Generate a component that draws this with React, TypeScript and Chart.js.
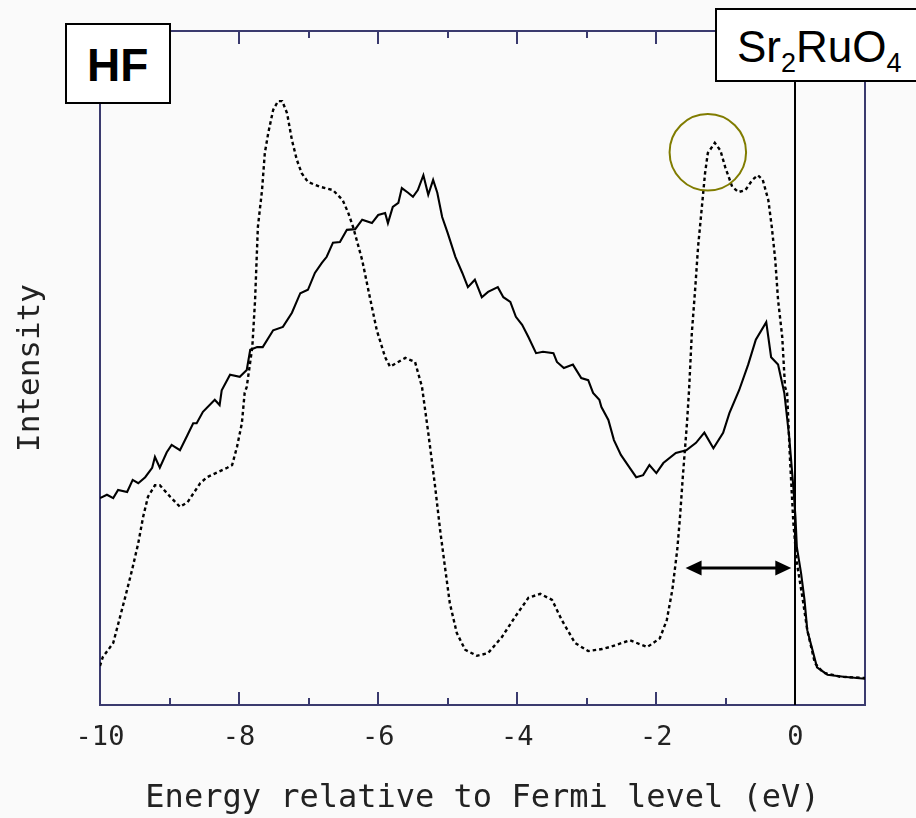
import React, { useEffect, useRef } from 'react';
import { Chart, registerables } from 'chart.js';

Chart.register(...registerables);

// Calculated (HF) spectrum – dotted curve
const calcEnergy = [-10.00,-9.96,-9.81,-9.64,-9.54,-9.45,-9.38,-9.31,-9.21,-9.14,-8.99,-8.85,-8.74,-8.56,-8.46,-8.17,-8.10,-8.03,-7.96,-7.92,-7.89,-7.81,-7.77,-7.73,-7.67,-7.63,-7.58,-7.51,-7.44,-7.38,-7.31,-7.24,-7.17,-7.10,-7.01,-6.84,-6.65,-6.51,-6.43,-6.36,-6.23,-6.12,-6.02,-5.90,-5.83,-5.61,-5.47,-5.37,-5.28,-5.18,-5.11,-5.04,-4.97,-4.87,-4.75,-4.58,-4.42,-4.22,-4.03,-3.84,-3.67,-3.50,-3.36,-3.17,-2.98,-2.78,-2.67,-2.38,-2.13,-1.95,-1.85,-1.77,-1.70,-1.66,-1.62,-1.56,-1.53,-1.49,-1.44,-1.40,-1.34,-1.30,-1.26,-1.16,-1.08,-1.01,-0.91,-0.82,-0.72,-0.62,-0.54,-0.47,-0.39,-0.34,-0.29,-0.25,-0.19,-0.15,-0.12,-0.08,-0.03,0.02,0.10,0.17,0.28,0.40,0.64,1.00];
const calcIntensity = [5.8,7.1,9.2,15.9,20.0,24.0,27.9,30.9,32.6,32.6,30.9,29.4,30.1,32.9,33.8,35.2,35.6,38.3,41.8,46.3,47.2,53.1,60.1,70.9,76.4,81.9,84.9,88.3,89.6,89.6,87.8,83.8,80.9,78.9,77.6,76.9,76.4,74.9,73.0,70.9,66.0,60.5,55.6,51.6,50.2,51.5,50.9,47.2,40.4,32.3,26.0,20.5,15.1,10.7,8.2,7.3,7.7,10.1,13.1,15.9,16.5,15.6,12.6,9.2,8.0,8.3,8.6,9.6,8.6,9.9,12.6,17.1,23.0,27.9,33.8,41.8,46.7,55.2,62.0,68.0,74.5,78.9,81.9,83.4,82.3,79.8,76.9,76.1,76.4,77.9,78.6,77.9,74.9,70.9,66.0,60.1,54.6,47.2,46.3,36.8,27.0,21.1,16.0,11.1,6.2,4.8,4.2,4.0];

// Experimental spectrum – solid curve
const expEnergy = [-10.00,-9.90,-9.81,-9.74,-9.61,-9.53,-9.45,-9.35,-9.25,-9.21,-9.14,-9.04,-8.97,-8.85,-8.74,-8.66,-8.61,-8.52,-8.35,-8.28,-8.25,-8.13,-7.99,-7.89,-7.84,-7.74,-7.66,-7.51,-7.37,-7.24,-7.12,-7.01,-6.91,-6.81,-6.74,-6.65,-6.55,-6.45,-6.33,-6.23,-6.09,-6.00,-5.90,-5.86,-5.79,-5.71,-5.66,-5.57,-5.50,-5.43,-5.35,-5.28,-5.21,-5.15,-5.08,-5.00,-4.89,-4.79,-4.71,-4.61,-4.51,-4.42,-4.28,-4.20,-4.10,-4.02,-3.93,-3.84,-3.73,-3.63,-3.48,-3.43,-3.33,-3.20,-3.08,-2.98,-2.91,-2.82,-2.79,-2.69,-2.61,-2.51,-2.39,-2.29,-2.19,-2.10,-2.00,-1.90,-1.72,-1.57,-1.43,-1.31,-1.18,-1.04,-0.95,-0.81,-0.68,-0.57,-0.42,-0.35,-0.25,-0.16,-0.09,-0.03,0.00,0.02,0.08,0.13,0.17,0.31,0.46,0.69,1.00];
const expIntensity = [30.7,31.2,30.7,31.9,31.6,33.4,32.9,33.8,35.2,36.8,35.2,37.5,38.6,37.8,40.1,41.8,41.8,43.5,45.3,44.5,46.7,49.0,48.7,49.7,52.7,53.1,53.1,55.6,56.1,58.2,61.1,61.6,64.1,65.6,66.5,68.6,68.7,70.5,70.6,72.0,71.5,72.7,73.0,71.5,73.9,74.5,76.7,76.0,75.4,76.4,78.6,75.7,77.9,76.0,72.4,70.0,66.5,64.1,62.0,63.1,60.5,61.3,62.0,60.5,59.8,57.6,56.4,54.6,52.2,52.4,52.2,50.9,50.0,50.5,48.5,48.2,46.3,45.3,44.2,42.3,39.3,37.1,35.3,33.8,34.1,35.6,34.4,35.9,37.4,37.8,38.9,40.4,38.1,40.4,43.3,46.7,50.5,54.2,56.8,51.6,50.5,46.3,39.8,32.3,27.9,23.4,19.6,15.6,11.1,5.6,4.5,4.2,3.9];

const tickValues = [-10, -8, -6, -4, -2, 0];
const minorTickValues = [-9, -7, -5, -3, -1];
const xTitle = 'Energy relative to Fermi level (eV)';
const yTitle = 'Intensity';

// annotations (data coordinates)
const circleCenterE = -1.26;
const circleCenterI = 82.0;
const circleRadiusE = 0.55;
const arrowStartE = -1.58;
const arrowEndE = -0.06;
const arrowLevelI = 20.3;
const fermiE = 0;

const AXIS = '#3a3a6e';
const BG = '#fafafa';

const zip = (xs: number[], ys: number[]) =>
  xs.slice(0, Math.min(xs.length, ys.length)).map((x, i) => ({ x, y: ys[i] }));

const overlayPlugin = {
  id: 'overlay',
  beforeDraw(chart: any) {
    const { ctx, width, height } = chart;
    ctx.save();
    ctx.fillStyle = BG;
    ctx.fillRect(0, 0, width, height);
    ctx.restore();
  },
  afterDraw(chart: any) {
    const { ctx, chartArea: a } = chart;
    const x = chart.scales.x;
    const y = chart.scales.y;
    ctx.save();
    // inward ticks top & bottom
    ctx.strokeStyle = AXIS;
    ctx.lineWidth = 2;
    const all = [...tickValues, ...minorTickValues];
    for (const v of all) {
      if (v === -10) continue;
      const px = Math.round(x.getPixelForValue(v));
      const len = tickValues.includes(v) ? 13 : 7;
      ctx.beginPath();
      ctx.moveTo(px, a.bottom);
      ctx.lineTo(px, a.bottom - len);
      ctx.moveTo(px, a.top);
      ctx.lineTo(px, a.top + len);
      ctx.stroke();
    }
    // Fermi level line
    const fx = Math.round(x.getPixelForValue(fermiE));
    ctx.strokeStyle = '#000';
    ctx.lineWidth = 2;
    ctx.beginPath();
    ctx.moveTo(fx, a.top);
    ctx.lineTo(fx, a.bottom);
    ctx.stroke();
    // circle
    const cx = x.getPixelForValue(circleCenterE);
    const cy = y.getPixelForValue(circleCenterI);
    const r = x.getPixelForValue(circleCenterE + circleRadiusE) - cx;
    ctx.strokeStyle = '#807c00';
    ctx.lineWidth = 2;
    ctx.beginPath();
    ctx.arc(cx, cy, r, 0, Math.PI * 2);
    ctx.stroke();
    // double arrow
    const x1 = x.getPixelForValue(arrowStartE);
    const x2 = x.getPixelForValue(arrowEndE);
    const ay = Math.round(y.getPixelForValue(arrowLevelI));
    const hl = 16;
    const hh = 7.5;
    ctx.strokeStyle = '#000';
    ctx.fillStyle = '#000';
    ctx.lineWidth = 3;
    ctx.beginPath();
    ctx.moveTo(x1 + hl - 2, ay);
    ctx.lineTo(x2 - hl + 2, ay);
    ctx.stroke();
    ctx.beginPath();
    ctx.moveTo(x1, ay);
    ctx.lineTo(x1 + hl, ay - hh);
    ctx.lineTo(x1 + hl, ay + hh);
    ctx.closePath();
    ctx.fill();
    ctx.beginPath();
    ctx.moveTo(x2, ay);
    ctx.lineTo(x2 - hl, ay - hh);
    ctx.lineTo(x2 - hl, ay + hh);
    ctx.closePath();
    ctx.fill();
    ctx.restore();
  },
};

export default function App() {
  const ref = useRef<HTMLCanvasElement>(null);

  useEffect(() => {
    if (!ref.current) return;
    const chart = new Chart(ref.current, {
      type: 'line',
      data: {
        datasets: [
          {
            label: 'HF calculation',
            data: zip(calcEnergy, calcIntensity),
            borderColor: '#000',
            borderWidth: 2.4,
            borderDash: [3.5, 3],
            pointRadius: 0,
            tension: 0,
            fill: false,
          },
          {
            label: 'Experiment',
            data: zip(expEnergy, expIntensity),
            borderColor: '#000',
            borderWidth: 2.1,
            pointRadius: 0,
            tension: 0,
            fill: false,
          },
        ],
      },
      options: {
        responsive: false,
        animation: false,
        devicePixelRatio: 1,
        layout: { padding: { top: 31, right: 51, left: 0, bottom: 0 } },
        plugins: { legend: { display: false }, tooltip: { enabled: false } },
        scales: {
          x: {
            type: 'linear',
            position: 'bottom',
            min: -10,
            max: 1,
            afterFit: (s: any) => { s.height = 113; },
            afterBuildTicks: (s: any) => { s.ticks = tickValues.map((v) => ({ value: v })); },
            grid: { display: false, drawTicks: false },
            border: { display: true, color: AXIS, width: 2 },
            ticks: {
              autoSkip: false,
              maxRotation: 0,
              padding: 17,
              color: '#222',
              font: { family: 'DejaVu Sans Mono', size: 27 },
              callback: (v: any) => String(v),
            },
            title: {
              display: true,
              text: xTitle,
              color: '#222',
              font: { family: 'DejaVu Sans Mono', size: 32 },
              padding: { top: 0, bottom: 0 },
            },
          },
          xTop: {
            type: 'linear',
            position: 'top',
            min: -10,
            max: 1,
            afterFit: (s: any) => { s.height = 0; },
            grid: { display: false, drawTicks: false },
            ticks: { display: false },
            border: { display: true, color: AXIS, width: 2 },
          },
          y: {
            type: 'linear',
            position: 'left',
            min: 0,
            max: 100,
            afterFit: (s: any) => { s.width = 100; },
            grid: { display: false, drawTicks: false },
            ticks: { display: false },
            border: { display: true, color: AXIS, width: 2 },
            title: {
              display: true,
              text: yTitle,
              color: '#222',
              font: { family: 'DejaVu Sans Mono', size: 31 },
              padding: { top: 12, bottom: 0 },
            },
          },
          yRight: {
            type: 'linear',
            position: 'right',
            min: 0,
            max: 100,
            afterFit: (s: any) => { s.width = 0; },
            grid: { display: false, drawTicks: false },
            ticks: { display: false },
            border: { display: true, color: AXIS, width: 2 },
          },
        },
      },
      plugins: [overlayPlugin],
    } as any);
    return () => chart.destroy();
  }, []);

  const sans = '"Liberation Sans", Arial, sans-serif';

  return (
    <div style={{ position: 'fixed', left: 0, top: 0, width: 916, height: 818, background: BG, overflow: 'hidden' }}>
      <canvas ref={ref} width={916} height={818} style={{ position: 'absolute', left: 0, top: 0, width: 916, height: 818 }} />
      <div style={{ position: 'absolute', left: 65, top: 23, width: 106, height: 81, boxSizing: 'border-box', border: '2px solid #000', background: '#fff' }} />
      <div style={{ position: 'absolute', left: 87, top: 42, fontFamily: sans, fontWeight: 'bold', fontSize: 46, lineHeight: '46px', whiteSpace: 'nowrap', color: '#000' }}>HF</div>
      <div style={{ position: 'absolute', left: 715, top: 8, width: 240, height: 74, boxSizing: 'border-box', border: '2px solid #000', background: '#fff' }} />
      <div style={{ position: 'absolute', left: 737, top: 25, fontFamily: sans, fontSize: 44, lineHeight: '44px', whiteSpace: 'nowrap', color: '#000' }}>
        Sr<span style={{ fontSize: 27, lineHeight: '27px', position: 'relative', top: 10 }}>2</span>RuO<span style={{ fontSize: 27, lineHeight: '27px', position: 'relative', top: 10 }}>4</span>
      </div>
    </div>
  );
}
